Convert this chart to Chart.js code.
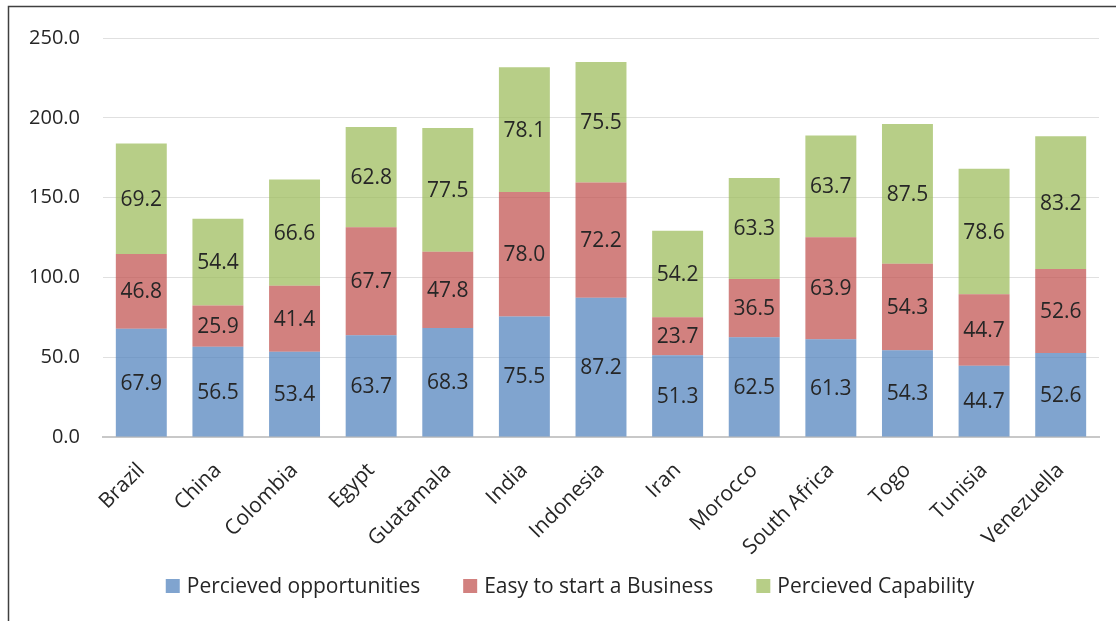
<!DOCTYPE html>
<html>
<head>
<meta charset="utf-8">
<script src="https://cdn.jsdelivr.net/npm/chart.js@4.4.1/dist/chart.umd.min.js"></script>
<style>
  html, body { margin: 0; padding: 0; background: #fff; }
  #wrap { width: 1116px; height: 621px; position: relative; }
</style>
</head>
<body>
<div id="wrap"><canvas id="c" width="1116" height="621"></canvas></div>
<script>
const countries = ['Brazil', 'China', 'Colombia', 'Egypt', 'Guatamala', 'India', 'Indonesia', 'Iran', 'Morocco', 'South Africa', 'Togo', 'Tunisia', 'Venezuella'];
const perceivedOpportunities = [67.9, 56.5, 53.4, 63.7, 68.3, 75.5, 87.2, 51.3, 62.5, 61.3, 54.3, 44.7, 52.6];
const easyToStart = [46.8, 25.9, 41.4, 67.7, 47.8, 78.0, 72.2, 23.7, 36.5, 63.9, 54.3, 44.7, 52.6];
const perceivedCapability = [69.2, 54.4, 66.6, 62.8, 77.5, 78.1, 75.5, 54.2, 63.3, 63.7, 87.5, 78.6, 83.2];
const yTicks = [0, 50, 100, 150, 200, 250];

const FONT = '"Open Sans", "DejaVu Sans", sans-serif';

// Value labels centred inside each stacked segment
const segmentLabels = {
  id: 'segmentLabels',
  afterDatasetsDraw(chart) {
    const ctx = chart.ctx;
    ctx.save();
    ctx.font = '21px ' + FONT;
    ctx.fillStyle = '#262626';
    ctx.textAlign = 'center';
    ctx.textBaseline = 'middle';
    chart.data.datasets.forEach((ds, i) => {
      chart.getDatasetMeta(i).data.forEach((bar, j) => {
        const y = (bar.y + bar.base) / 2;
        ctx.fillText(ds.data[j].toFixed(1), bar.x, y + 1);
      });
    });
    ctx.restore();
  }
};

// Series key below the axis labels, built from the datasets
const seriesKey = {
  id: 'seriesKey',
  afterDraw(chart) {
    const ctx = chart.ctx;
    const box = 14, textGap = 7, itemGap = 43, centerX = 570, centerY = 586;
    ctx.save();
    ctx.font = '21px ' + FONT;
    ctx.textBaseline = 'middle';
    ctx.textAlign = 'left';
    const items = chart.data.datasets.map(ds => ({
      text: ds.label, color: ds.backgroundColor, w: ctx.measureText(ds.label).width
    }));
    const total = items.reduce((s, it) => s + box + textGap + it.w, 0) + itemGap * (items.length - 1);
    let x = centerX - total / 2;
    items.forEach(it => {
      ctx.fillStyle = it.color;
      ctx.fillRect(x, centerY - box / 2, box, box);
      ctx.fillStyle = '#262626';
      ctx.fillText(it.text, x + box + textGap, centerY + 1);
      x += box + textGap + it.w + itemGap;
    });
    ctx.restore();
  }
};

// Outer frame around the whole figure
const frame = {
  id: 'frame',
  afterDraw(chart) {
    const ctx = chart.ctx;
    ctx.save();
    ctx.strokeStyle = '#404040';
    ctx.lineWidth = 1.5;
    ctx.strokeRect(8.5, 6.5, 1200, 700);
    ctx.restore();
  }
};

new Chart(document.getElementById('c'), {
  type: 'bar',
  data: {
    labels: countries,
    datasets: [
      { label: 'Percieved opportunities', data: perceivedOpportunities, backgroundColor: 'rgba(79,129,189,0.72)' },
      { label: 'Easy to start a Business', data: easyToStart, backgroundColor: 'rgba(192,80,77,0.72)' },
      { label: 'Percieved Capability', data: perceivedCapability, backgroundColor: 'rgba(155,187,89,0.72)' }
    ]
  },
  options: {
    responsive: false,
    animation: false,
    devicePixelRatio: 1,
    layout: { padding: { left: 9, right: 17, top: 38, bottom: 0 } },
    datasets: { bar: { barPercentage: 0.665, categoryPercentage: 1.0 } },
    plugins: {
      legend: { display: false },
      tooltip: { enabled: false }
    },
    scales: {
      x: {
        stacked: true,
        grid: { display: false },
        border: { display: true, color: '#c8c8c8', width: 2 },
        ticks: {
          font: { family: FONT, size: 21 },
          color: '#262626',
          minRotation: 45,
          maxRotation: 45,
          padding: 13
        },
        afterFit(scale) { scale.height = 184; }
      },
      y: {
        stacked: true,
        min: 0,
        max: 250,
        afterBuildTicks(scale) { scale.ticks = yTicks.map(v => ({ value: v })); },
        grid: { color: '#e0e0e0', lineWidth: 1, drawTicks: false },
        border: { display: false },
        ticks: {
          font: { family: FONT, size: 20 },
          color: '#262626',
          padding: 23,
          callback: v => Number(v).toFixed(1)
        },
        afterFit(scale) { scale.width = 94; }
      }
    }
  },
  plugins: [segmentLabels, seriesKey, frame]
});
</script>
</body>
</html>
